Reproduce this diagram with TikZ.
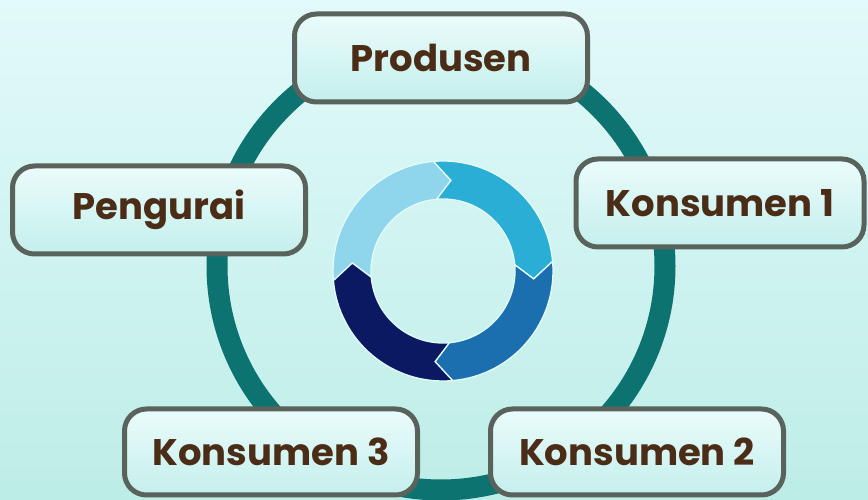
\documentclass[tikz,border=0pt]{standalone}
\usepackage{fontspec}
\newfontfamily\stagefont{Poppins}
\usepackage{xcolor}
\usepackage{tikz}

\definecolor{bgtop}{HTML}{E2FAF9}
\definecolor{bgbot}{HTML}{BDEDE7}
\definecolor{ringteal}{HTML}{0C7371}
\definecolor{boxline}{HTML}{59635B}
\definecolor{boxtop}{HTML}{EAFCFB}
\definecolor{boxbot}{HTML}{C4EFEC}
\definecolor{txtbrown}{HTML}{4A2C17}
\definecolor{seglight}{HTML}{8FD5EC}
\definecolor{segcyan}{HTML}{2AAED5}
\definecolor{segmid}{HTML}{1B6FAE}
\definecolor{segnavy}{HTML}{0B1862}

\begin{document}
\begin{tikzpicture}[x=1pt, y=1pt,
  stage/.style={rectangle, rounded corners=22pt, draw=boxline, line width=5pt,
                top color=boxtop, bottom color=boxbot, text=txtbrown,
                minimum width=293pt, minimum height=88pt,
                font=\stagefont\bfseries\fontsize{37}{40}\selectfont}]

\useasboundingbox (0,0) rectangle (868,500);
\clip (0,0) rectangle (868,500);
\shade[top color=bgtop, bottom color=bgbot] (0,0) rectangle (868,500);

% big cycle
\draw[ringteal, line width=21pt] (441,234) circle[radius=224];

% inner arrows
\begin{scope}[shift={(443,229)}]
\foreach \s/\col in {185/seglight, 95/segcyan, 5/segmid, -85/segnavy}{
  \pgfmathsetmacro{\e}{\s-90}
  \filldraw[fill=\col, draw=bgtop, line width=1.3pt]
    (\s:110) arc[start angle=\s, end angle=\e, radius=110]
    -- (\e-10:91) -- (\e:72)
    arc[start angle=\e, end angle=\s, radius=72]
    -- (\s-10:91) -- cycle;
}
\end{scope}

\node[stage] (produsen) at (441,442) {Produsen};
\node[stage] (pengurai) at (159,290) {Pengurai};
\node[stage, minimum width=288pt] (kons1) at (720,297) {Konsumen 1};
\node[stage, minimum height=86pt] (kons3) at (271,48) {Konsumen 3};
\node[stage, minimum height=86pt] (kons2) at (637,48) {Konsumen 2};

\end{tikzpicture}
\end{document}
